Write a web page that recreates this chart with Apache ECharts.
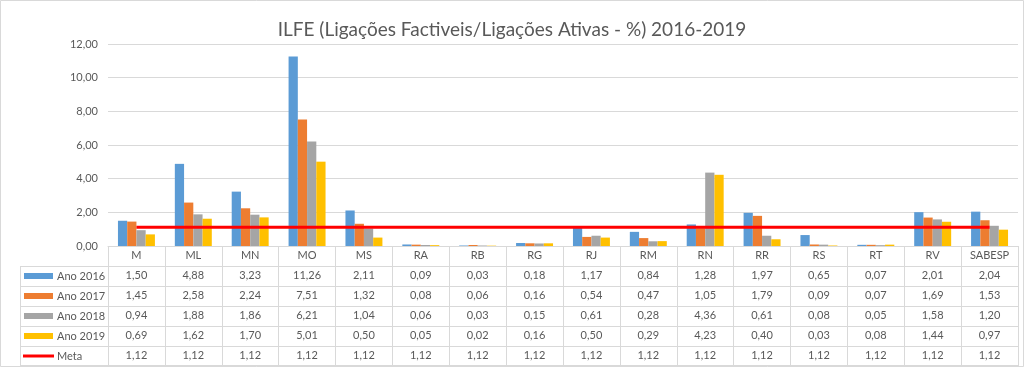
<!DOCTYPE html>
<html><head><meta charset="utf-8">
<script src="https://cdn.jsdelivr.net/npm/echarts@6/dist/echarts.min.js"></script>
<style>html,body{margin:0;padding:0;background:#fff}#c{width:1024px;height:367px}</style>
</head><body><div id="c"></div>
<script>
const categories = ['M','ML','MN','MO','MS','RA','RB','RG','RJ','RM','RN','RR','RS','RT','RV','SABESP'];
const ano2016 = [1.50,4.88,3.23,11.26,2.11,0.09,0.03,0.18,1.17,0.84,1.28,1.97,0.65,0.07,2.01,2.04];
const ano2017 = [1.45,2.58,2.24,7.51,1.32,0.08,0.06,0.16,0.54,0.47,1.05,1.79,0.09,0.07,1.69,1.53];
const ano2018 = [0.94,1.88,1.86,6.21,1.04,0.06,0.03,0.15,0.61,0.28,4.36,0.61,0.08,0.05,1.58,1.20];
const ano2019 = [0.69,1.62,1.70,5.01,0.50,0.05,0.02,0.16,0.50,0.29,4.23,0.40,0.03,0.08,1.44,0.97];
const meta    = [1.12,1.12,1.12,1.12,1.12,1.12,1.12,1.12,1.12,1.12,1.12,1.12,1.12,1.12,1.12,1.12];
const seriesNames = ['Ano 2016','Ano 2017','Ano 2018','Ano 2019','Meta'];
const titleText = 'ILFE (Ligações Factiveis/Ligações Ativas - %) 2016-2019';

const colors = ['#5B9BD5','#ED7D31','#A5A5A5','#FFC000','#FF0000'];
const rows = [ano2016, ano2017, ano2018, ano2019, meta];
const fmt = v => v.toFixed(2).replace('.', ',');
const FONT = 'Lato';
const TXT = '#595959';
const LINE = '#D9D9D9';
const W = 1024, H = 367;
const G = {left:108, right:6, top:44, bottom:121};
const ROW = 20;
const base = H - G.bottom;
const tableLeft = 20;

const axisCommon = {
  type:'category', gridIndex:0, position:'bottom', data:categories,
  axisLine:{show:true, lineStyle:{color:LINE, width:1}},
  axisTick:{show:true, length:ROW, interval:0, lineStyle:{color:LINE}},
  axisLabel:{interval:0, color:TXT, fontFamily:FONT, fontSize:11, margin:4},
  splitLine:{show:false}
};
const xAxes = [Object.assign({}, axisCommon, {offset:0})];
rows.forEach((r,i)=>{
  xAxes.push(Object.assign({}, axisCommon, {
    offset: ROW*(i+1),
    axisLabel: Object.assign({}, axisCommon.axisLabel, {formatter:(v,idx)=>fmt(r[idx])})
  }));
});
xAxes.push(Object.assign({}, axisCommon, {offset: ROW*6 - 1, axisTick:{show:false}, axisLabel:{show:false}}));

const graphics = [
  {type:'rect', shape:{x:0.5,y:0.5,width:W-1,height:H-1}, style:{fill:'none', stroke:LINE, lineWidth:1}, silent:true},
  {type:'line', shape:{x1:tableLeft+0.5, y1:base+ROW, x2:tableLeft+0.5, y2:base+ROW*6-1}, style:{stroke:LINE, lineWidth:1}}
];
for (let i=1;i<=6;i++){
  const y = base + ROW*i - (i===6?1:0) + 0.5;
  graphics.push({type:'line', shape:{x1:tableLeft, y1:y, x2:G.left, y2:y}, style:{stroke:LINE, lineWidth:1}});
}
seriesNames.forEach((n,i)=>{
  const cy = base + ROW*(i+1) + ROW/2;
  if (i<4) graphics.push({type:'rect', shape:{x:24, y:cy-3, width:29, height:6}, style:{fill:colors[i]}});
  else graphics.push({type:'line', shape:{x1:23, y1:cy, x2:54, y2:cy}, style:{stroke:colors[i], lineWidth:3}});
  graphics.push({type:'text', x:57, y:cy, style:{text:n, fill:TXT, font:'11px '+FONT, verticalAlign:'middle', align:'left'}});
});

const series = [];
for (let i=0;i<4;i++){
  series.push({name:seriesNames[i], type:'bar', data:rows[i], xAxisIndex:0, yAxisIndex:0,
    barGap:'0%', barCategoryGap:'35%', itemStyle:{color:colors[i]}});
}
series.push({name:'Meta', type:'line', data:meta, xAxisIndex:0, yAxisIndex:0, symbol:'none',
  lineStyle:{color:colors[4], width:3}, z:5});

const chart = echarts.init(document.getElementById('c'));
chart.setOption({
  animation:false,
  backgroundColor:'#fff',
  title:{text:titleText, left:'center', top:15, textStyle:{fontFamily:FONT, fontSize:19, fontWeight:'normal', color:TXT}},
  grid:{left:G.left, right:G.right, top:G.top, bottom:G.bottom, containLabel:false, outerBoundsMode:'none'},
  xAxis: xAxes,
  yAxis:{type:'value', min:0, max:12, interval:2,
    axisLine:{show:false}, axisTick:{show:false},
    axisLabel:{formatter:v=>fmt(v), color:TXT, fontFamily:FONT, fontSize:11, margin:10},
    splitLine:{lineStyle:{color:LINE}}},
  series: series,
  graphic: graphics
});
</script></body></html>
